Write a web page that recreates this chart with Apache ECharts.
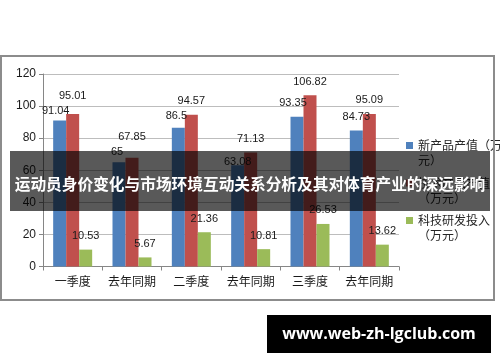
<!DOCTYPE html>
<html>
<head>
<meta charset="utf-8">
<script src="https://cdn.jsdelivr.net/npm/echarts@6/dist/echarts.min.js"></script>
<style>html,body{margin:0;padding:0;background:#fff}#c{width:500px;height:362px}</style>
</head>
<body>
<div id="c"></div>
<script>
var categories = ['一季度', '去年同期', '二季度', '去年同期', '三季度', '去年同期'];
var seriesNames = ['新产品产值（万元）', '技术产品产值（万元）', '科技研发投入（万元）'];
var newProductValue = [91.04, 65, 86.5, 63.08, 93.35, 84.73];
var techProductValue = [95.01, 67.85, 94.57, 71.13, 106.82, 95.09];
var rdInvestment = [10.53, 5.67, 21.36, 10.81, 26.53, 13.62];
var yTicks = [0, 20, 40, 60, 80, 100, 120];
var titleText = '运动员身价变化与市场环境互动关系分析及其对体育产业的深远影响';
var siteText = 'www.web-zh-lgclub.com';

var colors = ['#4F81BD', '#C0504D', '#9BBB59'];
// label nudges (Excel-style overlap avoidance)
var labelNudge = [
  {0: [-4, 4], 1: [-2, 3], 2: [-2, 2], 3: [0, 10], 4: [-4, 0]},
  {0: [0, -5], 1: [0, -7]},
  {}
];
var allValues = [newProductValue, techProductValue, rdInvestment];

var chart = echarts.init(document.getElementById('c'), null, {renderer: 'canvas'});
var series = allValues.map(function (vals, si) {
  return {
    name: seriesNames[si],
    type: 'bar',
    barWidth: 13,
    barGap: '0%',
    itemStyle: {color: colors[si]},
    label: {
      show: true, position: 'top', distance: 8,
      fontFamily: 'Liberation Sans', fontSize: 11, color: '#1a1a1a'
    },
    data: vals.map(function (v, i) {
      var n = labelNudge[si][i];
      return n ? {value: v, label: {offset: n}} : v;
    })
  };
});

chart.setOption({
  animation: false,
  color: colors,
  grid: {left: 43, right: 101, top: 74, bottom: 95.5},
  legend: {
    orient: 'vertical', left: 401, top: 118, itemGap: -7.5,
    itemWidth: 7, itemHeight: 7, icon: 'rect',
    textStyle: {fontFamily: 'Noto Sans CJK SC', fontSize: 12, color: '#262626', lineHeight: 15},
    formatter: function (name) {
      var k = name.charAt(6) === '（' ? 6 : 7;
      return '\n' + name.slice(0, k) + '\n' + name.slice(k);
    },
    data: seriesNames
  },
  xAxis: {
    type: 'category', data: categories,
    axisLine: {lineStyle: {color: '#868686'}},
    axisTick: {show: true, length: 4, lineStyle: {color: '#868686'}},
    axisLabel: {interval: 0, fontFamily: 'Noto Sans CJK SC', fontSize: 12, color: '#1a1a1a', margin: 9}
  },
  yAxis: {
    type: 'value', min: yTicks[0], max: yTicks[yTicks.length - 1], interval: yTicks[1] - yTicks[0],
    axisLine: {show: true, lineStyle: {color: '#868686'}},
    axisTick: {show: true, length: 4, lineStyle: {color: '#868686'}},
    axisLabel: {fontFamily: 'Liberation Sans', fontSize: 12, color: '#1a1a1a', margin: 7},
    splitLine: {lineStyle: {color: '#bdbdbd', width: 1}}
  },
  series: series,
  graphic: [
    {type: 'rect', z: 50, shape: {x: 1, y: 56, width: 493, height: 244},
      style: {fill: 'none', stroke: '#8c8c8c', lineWidth: 2}},
    {type: 'rect', z: 100, shape: {x: 10, y: 151, width: 480, height: 60},
      style: {fill: 'rgba(0,0,0,0.65)'}},
    {type: 'text', z: 101, x: 250, y: 184,
      style: {text: titleText, fill: '#ffffff', font: 'bold 15.7px "Noto Sans CJK SC"', align: 'center', verticalAlign: 'middle'}},
    {type: 'rect', z: 100, shape: {x: 267, y: 315, width: 224, height: 38},
      style: {fill: '#000000'}},
    {type: 'text', z: 101, x: 379, y: 334,
      style: {text: siteText, fill: '#ffffff', font: 'bold 16px "Open Sans"', align: 'center', verticalAlign: 'middle'}}
  ]
});
</script>
</body>
</html>
